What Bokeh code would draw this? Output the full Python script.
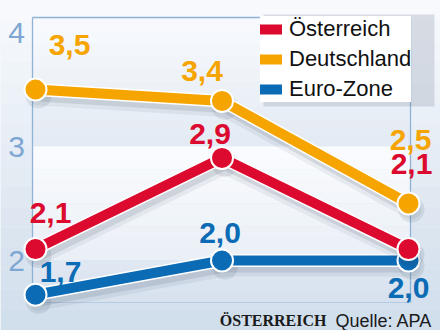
import numpy as np
from bokeh.plotting import figure
from bokeh.models import ColumnDataSource, Legend, LegendItem
from bokeh.core.properties import value
from bokeh.embed import file_html
from bokeh.resources import INLINE

# ---------------- data ----------------
periods = [0, 1, 2]
series_names = ["Österreich", "Deutschland", "Euro-Zone"]
oesterreich = [2.1, 2.9, 2.1]
deutschland = [3.5, 3.4, 2.5]
eurozone = [1.7, 2.0, 2.0]
y_ticks = [2, 3, 4]
y_tick_labels = ["2", "3", "4"]
footer_brand = "ÖSTERREICH"
footer_source = "Quelle: APA"

# ---------------- layout / style ----------------
W, H = 440, 330
X0_PX, DX_PX = 35.0, 186.5      # pixel of first period, pixels per period
Y4_PX, DY_PX = 32.0, 114.0      # pixel of value 4, pixels per unit


def xd(px):
    return (px - X0_PX) / DX_PX


def yd(py):
    return 4 - (py - Y4_PX) / DY_PX


RED = "#dc0a2e"
ORANGE = "#f5a400"
BLUE = "#0b6bb5"
TICK_COL = "#7ea6d2"
FRAME_COL = "#90b2d7"

p = figure(width=W, height=H, x_range=(xd(0), xd(W)), y_range=(yd(H), yd(0)),
           toolbar_location=None, output_backend="svg", min_border=0,
           x_axis_location=None, y_axis_location=None)
p.grid.visible = False
p.outline_line_color = None
p.background_fill_color = "#eef3f8"
p.border_fill_color = "#eef3f8"


def hexrgb(h):
    h = h.lstrip("#")
    return [int(h[i:i + 2], 16) for i in (0, 2, 4)]


def vgrad(xl, xr, yt, yb, ctop, cbot, n=10):
    a, b = hexrgb(ctop), hexrgb(cbot)
    edges = np.linspace(yt, yb, n + 1)
    cols = []
    for i in range(n):
        t = (i + 0.5) / n
        c = [int(round(a[k] + (b[k] - a[k]) * t)) for k in range(3)]
        cols.append("#%02x%02x%02x" % tuple(c))
    p.quad(left=[xd(xl)] * n, right=[xd(xr)] * n,
           top=[yd(e) for e in edges[:-1]], bottom=[yd(e) for e in edges[1:]],
           fill_color=cols, line_color=None)


# frame geometry (pixels)
F_L, F_R, F_T, F_B = 32, 410, 17, 302
y3_px = Y4_PX + (4 - y_ticks[1]) * DY_PX
y2_px = Y4_PX + (4 - y_ticks[0]) * DY_PX

# outer background gradient
vgrad(0, W, 0, H, "#f8fafd", "#d0ddeb", n=16)
# inner bands
vgrad(F_L, F_R, F_T, y3_px, "#f8fafd", "#e3eaf3", n=10)
vgrad(F_L, F_R, y3_px, y2_px, "#fbfcfe", "#e9eff6", n=10)
vgrad(F_L, F_R, y2_px, F_B, "#dfe8f2", "#d6e1ee", n=4)

# frame lines
p.line([xd(F_L), xd(F_L)], [yd(F_T), yd(F_B)], line_color=FRAME_COL, line_width=1.3)
p.line([xd(F_L), xd(F_R)], [yd(F_T), yd(F_T)], line_color=FRAME_COL, line_width=1.3)
p.line([xd(F_R), xd(F_R)], [yd(F_T), yd(F_B)], line_color=FRAME_COL, line_width=1.3)
p.line([xd(F_L), xd(F_R)], [yd(F_B), yd(F_B)], line_color="#b5cbe3", line_width=1)

# y tick labels
p.text(x=[xd(16)] * len(y_ticks), y=y_ticks, text=y_tick_labels,
       text_align="center", text_baseline="middle",
       text_font=value("Liberation Sans"), text_font_size="30px",
       text_color=TICK_COL)

# legend shadow
p.quad(left=[xd(263)], right=[xd(434)], top=[yd(14)], bottom=[yd(106)],
       fill_color="#50607a", fill_alpha=0.18, line_color=None)

series = [
    (series_names[2], eurozone, BLUE),
    (series_names[1], deutschland, ORANGE),
    (series_names[0], oesterreich, RED),
]

sx, sy = 3 / DX_PX, 6 / DY_PX
main_lines = {}
for name, vals, col in series:
    xs = [x + sx for x in periods]
    ys = [v - sy for v in vals]
    p.line(xs, ys, line_color="#2a3a50", line_alpha=0.07, line_width=20,
           line_join="round", line_cap="round")
    p.line(xs, ys, line_color="#2a3a50", line_alpha=0.12, line_width=12,
           line_join="round", line_cap="round")
    p.scatter(xs, ys, size=26, fill_color="#2a3a50", fill_alpha=0.10, line_color=None)
    p.line(periods, vals, line_color="white", line_width=13, line_join="round")
    r = p.line(periods, vals, line_color=col, line_width=10, line_join="round",
               line_cap="round")
    main_lines[name] = r
    p.scatter(periods, vals, size=22, fill_color=col, line_color="white", line_width=2)

# value labels (pixel offsets from each point)
label_offsets = {
    series_names[1]: ([34, -20, 2], [-45, -30, -64]),
    series_names[0]: ([15, -12, 3], [-36, -24, -85]),
    series_names[2]: ([25, -2, 0], [-23, -28, 27]),
}
for name, vals, col in series:
    dx, dy = label_offsets[name]
    src = ColumnDataSource(dict(x=periods, y=vals,
                                t=[("%.1f" % v).replace(".", ",") for v in vals],
                                dx=dx, dy=dy))
    p.text(x="x", y="y", text="t", x_offset="dx", y_offset="dy", source=src,
           text_align="center", text_baseline="middle",
           text_font=value("Liberation Sans"), text_font_style="bold",
           text_font_size="30px", text_color=col)

# footer
p.text(x=[xd(326)], y=[yd(320)], text=[footer_brand], text_align="right",
       text_baseline="alphabetic", text_font=value("Liberation Serif"),
       text_font_style="bold", text_font_size="16px", text_color="#1a1a1a")
p.text(x=[xd(335)], y=[yd(320)], text=[footer_source], text_align="left",
       text_baseline="alphabetic", text_font=value("Liberation Sans"),
       text_font_size="18px", text_color="#1a1a1a")

legend = Legend(
    items=[LegendItem(label=n, renderers=[main_lines[n]]) for n in series_names],
    location=(260, H - 102),
    label_text_font="Liberation Sans", label_text_font_size="22px",
    label_text_color="#111111",
    glyph_width=22, glyph_height=24, label_height=24, label_standoff=7,
    spacing=4, padding=7, margin=0,
    background_fill_color="white", background_fill_alpha=1.0,
    border_line_color=None,
)
p.add_layout(legend)

open("out.html", "w").write(file_html(p, INLINE))
